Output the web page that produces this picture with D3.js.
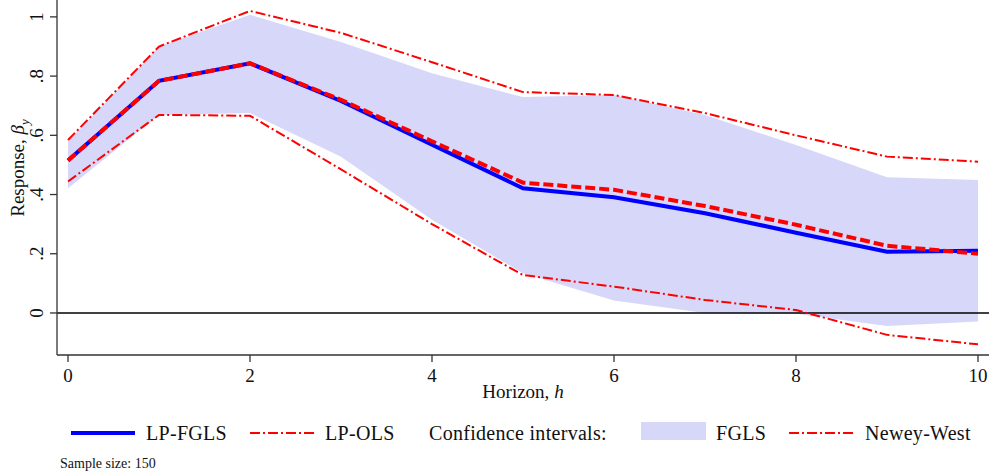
<!DOCTYPE html>
<html>
<head>
<meta charset="utf-8">
<script src="https://cdn.jsdelivr.net/npm/d3@7"></script>
<style>
  body { margin: 0; background: #fff; }
  text { font-family: "Liberation Serif", "DejaVu Serif", serif; fill: #111; }
</style>
</head>
<body>
<div class="canvas"></div>
<script>
// horizons and series
const horizon = [0, 1, 2, 3, 4, 5, 6, 7, 8, 9, 10];
const lpFgls = [0.515, 0.784, 0.843, 0.716, 0.568, 0.421, 0.391, 0.337, 0.271, 0.207, 0.21];
const lpOls = [0.515, 0.784, 0.843, 0.72, 0.58, 0.44, 0.416, 0.361, 0.298, 0.227, 0.20];
const fglsLower = [0.421, 0.669, 0.675, 0.528, 0.315, 0.134, 0.042, 0.0, -0.003, -0.044, -0.029];
const fglsUpper = [0.579, 0.90, 1.007, 0.915, 0.81, 0.729, 0.736, 0.669, 0.567, 0.458, 0.449];
const nwLower = [0.444, 0.669, 0.666, 0.485, 0.30, 0.128, 0.089, 0.044, 0.01, -0.074, -0.106];
const nwUpper = [0.584, 0.90, 1.02, 0.946, 0.847, 0.746, 0.736, 0.675, 0.60, 0.528, 0.511];
const yTicks = [0, 0.2, 0.4, 0.6, 0.8, 1];
const yTickLabels = ['0', '.2', '.4', '.6', '.8', '1'];
const xTicks = [0, 2, 4, 6, 8, 10];

const dims = { width: 989, height: 476 };
const plot = { left: 57, right: 989, top: 0, bottom: 355 };

const svg = d3.select('.canvas')
  .append('svg')
  .attr('width', dims.width)
  .attr('height', dims.height);

const x = d3.scaleLinear().domain([0, 10]).range([68, 978]);
const y = d3.scaleLinear().domain([-0.142, 1.057]).range([plot.bottom, plot.top]);

const rows = horizon.map((h, i) => ({
  h, fgls: lpFgls[i], ols: lpOls[i],
  lo: fglsLower[i], hi: fglsUpper[i], nwLo: nwLower[i], nwHi: nwUpper[i]
}));

// confidence band
const band = d3.area()
  .x(d => x(d.h))
  .y0(d => y(d.lo))
  .y1(d => y(d.hi));

svg.append('path')
  .datum(rows)
  .attr('d', band)
  .attr('fill', '#d7d7f9');

// zero line
svg.append('line')
  .attr('x1', plot.left).attr('x2', plot.right)
  .attr('y1', y(0)).attr('y2', y(0))
  .attr('stroke', '#000')
  .attr('stroke-width', 1.4);

const lineOf = key => d3.line().x(d => x(d.h)).y(d => y(d[key]));

// newey-west bounds
['nwLo', 'nwHi'].forEach(k => {
  svg.append('path')
    .datum(rows)
    .attr('d', lineOf(k))
    .attr('fill', 'none')
    .attr('stroke', '#ff0000')
    .attr('stroke-width', 2)
    .attr('stroke-dasharray', '10 3 2 3');
});

svg.append('path')
  .datum(rows)
  .attr('d', lineOf('fgls'))
  .attr('fill', 'none')
  .attr('stroke', '#0000ff')
  .attr('stroke-width', 4);

svg.append('path')
  .datum(rows)
  .attr('d', lineOf('ols'))
  .attr('fill', 'none')
  .attr('stroke', '#ff0000')
  .attr('stroke-width', 4)
  .attr('stroke-dasharray', '10 4');

// axes
const axisCol = '#333';
const yAxis = svg.append('g');
yAxis.append('line')
  .attr('x1', plot.left).attr('x2', plot.left)
  .attr('y1', plot.top).attr('y2', plot.bottom)
  .attr('stroke', axisCol).attr('stroke-width', 1.3);
yTicks.forEach((t, i) => {
  yAxis.append('line')
    .attr('x1', plot.left - 7).attr('x2', plot.left)
    .attr('y1', y(t)).attr('y2', y(t))
    .attr('stroke', axisCol).attr('stroke-width', 1.3);
  yAxis.append('text')
    .attr('transform', `translate(43, ${y(t)}) rotate(-90)`)
    .attr('text-anchor', 'middle')
    .style('font-size', '19px')
    .text(yTickLabels[i]);
});

const yTitle = svg.append('text')
  .attr('transform', 'translate(24, 168) rotate(-90)')
  .attr('text-anchor', 'middle')
  .style('font-size', '19px');
yTitle.append('tspan').text('Response, ');
yTitle.append('tspan').style('font-style', 'italic').text('β');
yTitle.append('tspan').style('font-style', 'italic').style('font-size', '13px')
  .attr('dy', 5).text('y');

const xAxis = svg.append('g');
xAxis.append('line')
  .attr('x1', plot.left).attr('x2', plot.right)
  .attr('y1', plot.bottom).attr('y2', plot.bottom)
  .attr('stroke', axisCol).attr('stroke-width', 1.3);
xTicks.forEach(t => {
  xAxis.append('line')
    .attr('x1', x(t)).attr('x2', x(t))
    .attr('y1', plot.bottom).attr('y2', plot.bottom + 7)
    .attr('stroke', axisCol).attr('stroke-width', 1.3);
  xAxis.append('text')
    .attr('x', x(t)).attr('y', 382)
    .attr('text-anchor', 'middle')
    .style('font-size', '19px')
    .text(t);
});

const xTitle = svg.append('text')
  .attr('x', 523).attr('y', 398)
  .attr('text-anchor', 'middle')
  .style('font-size', '19px');
xTitle.append('tspan').text('Horizon, ');
xTitle.append('tspan').style('font-style', 'italic').text('h');

// legend
const legY = 433;
const leg = svg.append('g');
leg.append('line')
  .attr('x1', 71).attr('x2', 135).attr('y1', legY).attr('y2', legY)
  .attr('stroke', '#0000ff').attr('stroke-width', 4);
leg.append('line')
  .attr('x1', 250).attr('x2', 315).attr('y1', legY).attr('y2', legY)
  .attr('stroke', '#ff0000').attr('stroke-width', 2).attr('stroke-dasharray', '10 3 2 3');
leg.append('rect')
  .attr('x', 641).attr('y', 422).attr('width', 65).attr('height', 18)
  .attr('fill', '#d7d7f9');
leg.append('line')
  .attr('x1', 789).attr('x2', 854).attr('y1', legY).attr('y2', legY)
  .attr('stroke', '#ff0000').attr('stroke-width', 2).attr('stroke-dasharray', '10 3 2 3');

[['LP-FGLS', 146], ['LP-OLS', 325], ['Confidence intervals:', 429], ['FGLS', 716], ['Newey-West', 865]]
  .forEach(([label, lx]) => {
    leg.append('text')
      .attr('x', lx).attr('y', legY + 7)
      .style('font-size', '20px')
      .style('letter-spacing', '0.3px')
      .text(label);
  });

svg.append('text')
  .attr('x', 60).attr('y', 468)
  .style('font-size', '14px')
  .text('Sample size: 150');
</script>
</body>
</html>
